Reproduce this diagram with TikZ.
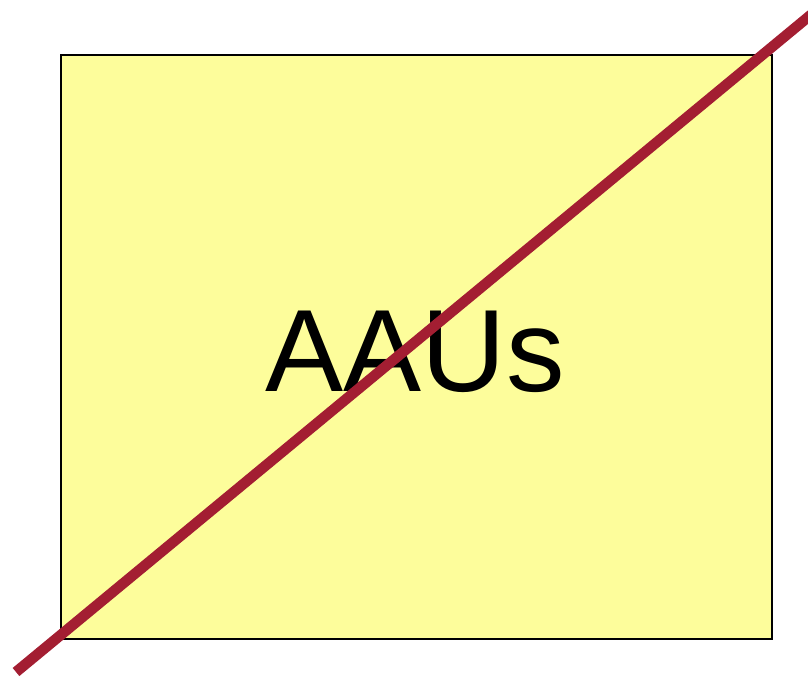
\documentclass[tikz,border=0pt]{standalone}
\usepackage{fontspec}
\setmainfont{Liberation Sans}
\definecolor{boxyellow}{RGB}{253,253,155}
\definecolor{crossred}{RGB}{163,30,50}
\begin{document}
\begin{tikzpicture}[x=1pt,y=-1pt,
  aaubox/.style={draw=black,line width=2.5pt,fill=boxyellow,minimum width=711pt,minimum height=584pt,inner sep=0pt,outer sep=0pt},
  bigtext/.style={font=\fontsize{117}{120}\selectfont,inner sep=0pt},
  crossline/.style={draw=crossred,line width=10.5pt}]
\useasboundingbox (0,0) rectangle (808,677);
\clip (0,0) rectangle (808,677);
\node[aaubox] (box) at (416.5,347) {};
\node[bigtext,anchor=base] (label) at (415,391) {AAUs};
\coordinate (lowend) at (16,672);
\coordinate (highend) at (830,-1);
\draw[crossline] (lowend) -- (highend);
\end{tikzpicture}
\end{document}
